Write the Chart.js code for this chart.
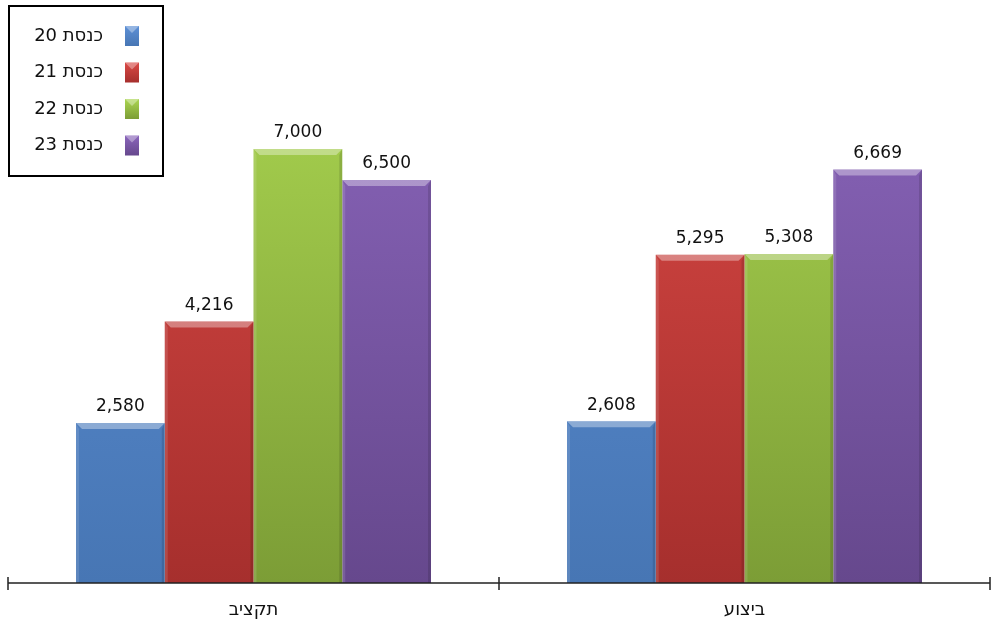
<!DOCTYPE html>
<html lang="he">
<head>
<meta charset="utf-8">
<script src="https://cdn.jsdelivr.net/npm/chart.js@4"></script>
<style>
  html, body { margin: 0; padding: 0; background: #fff; }
  #wrap { width: 992px; height: 625px; }
</style>
</head>
<body>
<div id="wrap"><canvas id="budgetChart" width="992" height="625"></canvas></div>
<script>
// נתונים
const categories = ['תקציב', 'ביצוע'];
const seriesNames = ['כנסת 20', 'כנסת 21', 'כנסת 22', 'כנסת 23'];
const knesset20 = [2580, 2608];
const knesset21 = [4216, 5295];
const knesset22 = [7000, 5308];
const knesset23 = [6500, 6669];

// צבעים: עליון, תחתון
const palette = [
    ['#5d90d6', '#4776b4'],
    ['#db4a46', '#a62f2d'],
    ['#abd651', '#7c9d36'],
    ['#8b66bc', '#66488d']
];

const FONT = '"DejaVu Sans", Tahoma, Verdana, sans-serif';

function barGradient(idx) {
    return function (ctx) {
        const area = ctx.chart.chartArea;
        if (!area) return palette[idx][0];
        const g = ctx.chart.ctx.createLinearGradient(0, area.top, 0, area.bottom);
        g.addColorStop(0, palette[idx][0]);
        g.addColorStop(1, palette[idx][1]);
        return g;
    };
}

// בליטה קלה בחלק העליון והצדדים של העמודות + תוויות ערכים
const barExtras = {
    id: 'barExtras',
    afterDatasetsDraw(chart) {
        const ctx = chart.ctx;
        ctx.save();
        chart.data.datasets.forEach((ds, di) => {
            const meta = chart.getDatasetMeta(di);
            meta.data.forEach((bar, i) => {
                const w = bar.width;
                const l = bar.x - w / 2, r = bar.x + w / 2;
                const t = bar.y, b = bar.base;
                const bev = 6;
                // פס עליון בהיר
                ctx.fillStyle = 'rgba(255,255,255,0.35)';
                ctx.beginPath();
                ctx.moveTo(l, t); ctx.lineTo(r, t);
                ctx.lineTo(r - bev, t + bev); ctx.lineTo(l + bev, t + bev);
                ctx.closePath(); ctx.fill();
                // צד שמאל
                ctx.fillStyle = 'rgba(255,255,255,0.12)';
                ctx.beginPath();
                ctx.moveTo(l, t); ctx.lineTo(l + 3, t + bev);
                ctx.lineTo(l + 3, b); ctx.lineTo(l, b);
                ctx.closePath(); ctx.fill();
                // צד ימין
                ctx.fillStyle = 'rgba(0,0,0,0.12)';
                ctx.beginPath();
                ctx.moveTo(r, t); ctx.lineTo(r - 3, t + bev);
                ctx.lineTo(r - 3, b); ctx.lineTo(r, b);
                ctx.closePath(); ctx.fill();
                // ערך
                ctx.fillStyle = '#111';
                ctx.font = '17px ' + FONT;
                ctx.textAlign = 'center';
                ctx.textBaseline = 'middle';
                ctx.fillText(ds.data[i].toLocaleString('en-US'), bar.x, t - 16);
            });
        });
        ctx.restore();
    }
};

// קו ציר X עם שנתות בין הקטגוריות
const axisLine = {
    id: 'axisLine',
    afterDraw(chart) {
        const ctx = chart.ctx;
        const x = chart.scales.x;
        const y0 = chart.chartArea.bottom;
        const n = chart.data.labels.length;
        ctx.save();
        ctx.strokeStyle = '#222';
        ctx.lineWidth = 1.5;
        ctx.beginPath();
        ctx.moveTo(x.left, y0); ctx.lineTo(x.right, y0);
        for (let i = 0; i <= n; i++) {
            const px = x.left + i * (x.width / n);
            ctx.moveTo(px, y0 - 6); ctx.lineTo(px, y0 + 7);
        }
        ctx.stroke();
        ctx.restore();
    }
};

// מקרא בתוך מסגרת בפינה השמאלית העליונה
const boxLegend = {
    id: 'boxLegend',
    afterDraw(chart) {
        const ctx = chart.ctx;
        ctx.save();
        ctx.strokeStyle = '#000';
        ctx.lineWidth = 2;
        ctx.strokeRect(9, 6, 154, 170);
        chart.data.datasets.forEach((ds, i) => {
            const cy = 36 + i * 36.5;
            const g = ctx.createLinearGradient(0, cy - 10, 0, cy + 10);
            g.addColorStop(0, palette[i][0]);
            g.addColorStop(1, palette[i][1]);
            ctx.fillStyle = g;
            ctx.fillRect(125, cy - 10, 14, 20);
            ctx.fillStyle = 'rgba(255,255,255,0.35)';
            ctx.beginPath();
            ctx.moveTo(125, cy - 10); ctx.lineTo(139, cy - 10);
            ctx.lineTo(132, cy - 3); ctx.closePath(); ctx.fill();
            ctx.fillStyle = '#111';
            ctx.font = '18px ' + FONT;
            ctx.textAlign = 'right';
            ctx.textBaseline = 'middle';
            ctx.fillText(ds.label, 103, cy);
        });
        ctx.restore();
    }
};

const seriesValues = [knesset20, knesset21, knesset22, knesset23];

const budgetCtx = document.getElementById('budgetChart').getContext('2d');
const budgetChart = new Chart(budgetCtx, {
    type: 'bar',
    data: {
        labels: categories,
        datasets: seriesNames.map((name, i) => ({
            label: name,
            data: seriesValues[i],
            backgroundColor: barGradient(i),
            borderWidth: 0,
            barPercentage: 1,
            categoryPercentage: 0.723
        }))
    },
    options: {
        responsive: false,
        animation: false,
        layout: {
            padding: { left: 8, right: 2, top: 25, bottom: 0 }
        },
        scales: {
            x: {
                grid: { display: false, drawTicks: false },
                border: { display: false },
                afterFit(scale) { scale.height = 42; },
                ticks: {
                    color: '#111',
                    padding: 17,
                    font: { family: FONT, size: 18 }
                }
            },
            y: {
                display: false,
                min: 0,
                max: 9000
            }
        },
        plugins: {
            legend: { display: false },
            tooltip: { enabled: false }
        }
    },
    plugins: [barExtras, axisLine, boxLegend]
});
</script>
</body>
</html>
